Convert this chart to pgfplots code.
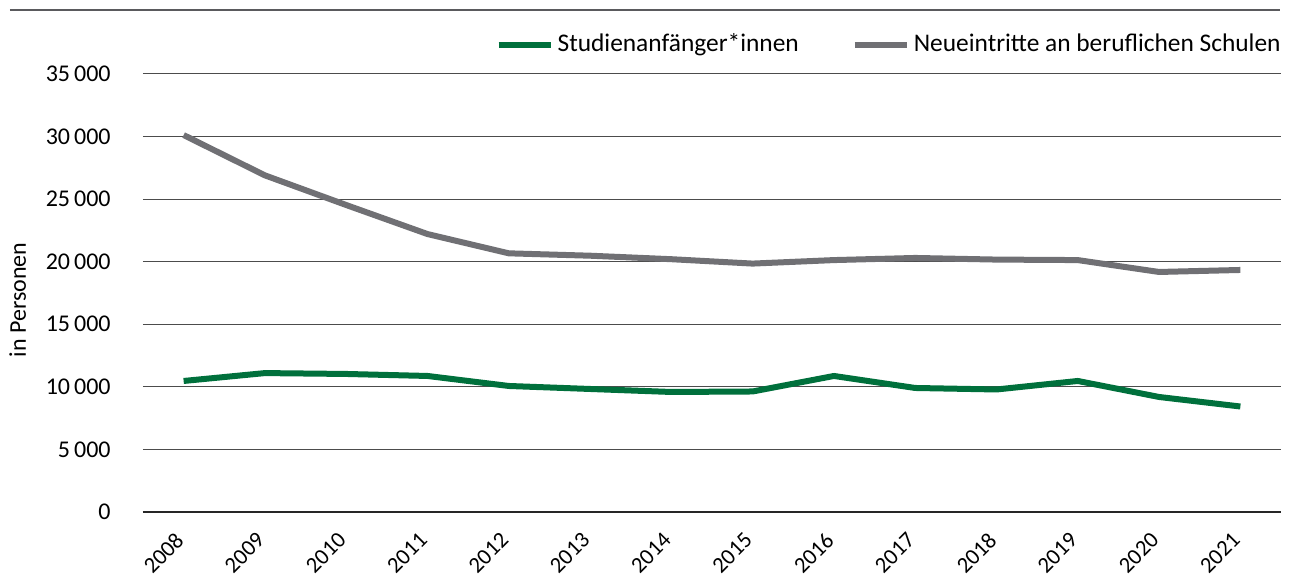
\documentclass[border=0pt]{standalone}
\usepackage{fontspec}
\setmainfont{Carlito}
\usepackage{pgfplots}
\pgfplotsset{compat=1.18}
\definecolor{dgreen}{HTML}{00703C}
\definecolor{dgrey}{HTML}{707074}
\begin{document}
\fontsize{12}{14}\selectfont
\begin{tikzpicture}
\useasboundingbox (-71.5pt,-32pt) rectangle (576.5pt,256pt);
\draw[dgrey!80!black, line width=1pt] (-66.5pt,251pt) -- (568.5pt,251pt);
\begin{axis}[
  at={(0,0)}, anchor=south west,
  scale only axis, width=569pt, height=219pt,
  xmin=-0.5, xmax=13.5, ymin=0, ymax=35000,
  xtick={0,...,13},
  xticklabels={2008,2009,2010,2011,2012,2013,2014,2015,2016,2017,2018,2019,2020,2021},
  xticklabel style={rotate=45, anchor=north east, inner sep=0pt, xshift=-10pt, yshift=-3.3pt, font=\fontsize{11.3}{13}\selectfont},
  ytick={0,5000,...,35000},
  scaled y ticks=false,
  yticklabel={\pgfmathprintnumber[fixed, precision=0, 1000 sep={\,}, assume math mode=true]{\tick}},
  yticklabel style={xshift=-12pt},
  axis lines*=left,
  y axis line style={draw=none},
  x axis line style={line width=1.2pt, black!85, -},
  major tick length=0pt,
  ymajorgrids, grid style={line width=0.5pt, black!70},
  ylabel={in Personen}, ylabel style={at={(axis description cs:-0.11,0.484)}, anchor=center},
  legend style={draw=none, at={(1,1)}, anchor=south east, yshift=5pt, xshift=5pt, legend columns=2,
    column sep=0pt, font=\fontsize{12.7}{14}\selectfont,
    /tikz/every even column/.append style={column sep=24.5pt}},
  legend image code/.code={\draw[#1, line width=3pt] (0pt,0pt) -- (26pt,0pt);},
  every axis plot/.append style={line width=3pt, line join=round},
  clip=false,
]
\addplot[dgreen] coordinates {(0,10470) (1,11100) (2,11030) (3,10870) (4,10070) (5,9830) (6,9590) (7,9630) (8,10870) (9,9910) (10,9790) (11,10470) (12,9190) (13,8430)};
\addlegendentry{Studienanfänger*innen}
\addplot[dgrey] coordinates {(0,30120) (1,26900) (2,24530) (3,22210) (4,20670) (5,20480) (6,20200) (7,19850) (8,20130) (9,20300) (10,20170) (11,20130) (12,19180) (13,19340)};
\addlegendentry{Neueintritte an beruflichen Schulen}
\end{axis}
\end{tikzpicture}
\end{document}
